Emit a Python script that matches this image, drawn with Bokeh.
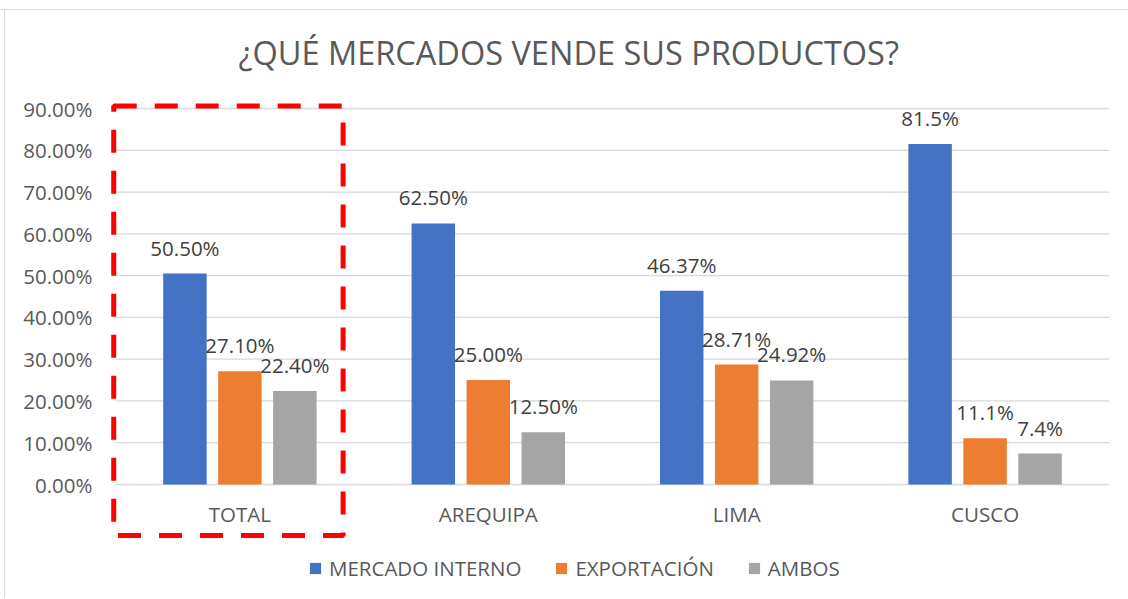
from bokeh.plotting import figure
from bokeh.models import (ColumnDataSource, FactorRange, FixedTicker, NumeralTickFormatter,
                          BoxAnnotation, Legend, LegendItem, Range1d)
from bokeh.transform import dodge
from bokeh.core.properties import value
from bokeh.embed import file_html
from bokeh.resources import INLINE

# ---------------- data ----------------
title_text = "¿QUÉ MERCADOS VENDE SUS PRODUCTOS?"
categories = ["TOTAL", "AREQUIPA", "LIMA", "CUSCO"]
series_names = ["MERCADO INTERNO", "EXPORTACIÓN", "AMBOS"]
mercado_interno = [0.505, 0.625, 0.4637, 0.815]
exportacion = [0.271, 0.25, 0.2871, 0.111]
ambos = [0.224, 0.125, 0.2492, 0.074]
mercado_interno_labels = ["50.50%", "62.50%", "46.37%", "81.5%"]
exportacion_labels = ["27.10%", "25.00%", "28.71%", "11.1%"]
ambos_labels = ["22.40%", "12.50%", "24.92%", "7.4%"]
y_ticks = [0.0, 0.1, 0.2, 0.3, 0.4, 0.5, 0.6, 0.7, 0.8, 0.9]

# ---------------- style ----------------
FONT = "Open Sans"
FS = "20.5px"
AXIS_COLOR = "#595959"
LABEL_COLOR = "#404040"
colors = ["#4472C4", "#ED7D31", "#A5A5A5"]
offsets = [-0.2213, 0.0, 0.2213]
bar_w = 0.175

src = ColumnDataSource(dict(
    cat=categories,
    mi=mercado_interno, ex=exportacion, am=ambos,
    mi_l=mercado_interno_labels, ex_l=exportacion_labels, am_l=ambos_labels,
    cat_y=[-0.091] * len(categories),
))
grid_src = ColumnDataSource(dict(
    x0=[0] * len(y_ticks), x1=[len(categories)] * len(y_ticks), y=y_ticks,
))

p = figure(
    x_range=FactorRange(*categories, range_padding=0.025, range_padding_units="absolute"),
    y_range=Range1d(-0.25372, 0.91915),
    width=1128, height=598,
    output_backend="svg", toolbar_location=None,
    min_border_left=109, min_border_right=13, min_border_top=100, min_border_bottom=8,
)
p.border_fill_color = None
p.styles = {
    "box-shadow": ("inset 0 9px 0 0 #ffffff, inset 0 10px 0 0 #D9D9D9, "
                   "inset 4px 0 0 0 #ffffff, inset 5px 0 0 0 #D9D9D9"),
}

p.title.text = title_text
p.title.text_font = FONT
p.title.text_font_size = "32.5px"
p.title.text_font_style = "normal"
p.title.text_color = AXIS_COLOR
p.title.align = "left"
p.title.offset = 129
p.title.vertical_align = "top"
p.title.standoff = 48

p.xaxis.visible = False
p.xgrid.grid_line_color = None
p.ygrid.grid_line_color = None
p.outline_line_color = None

# horizontal gridlines spanning the category area
p.segment(x0="x0", x1="x1", y0="y", y1="y", source=grid_src,
          line_color="#D9D9D9", line_width=1.3, level="underlay")

yax = p.yaxis[0]
yax.ticker = FixedTicker(ticks=y_ticks, minor_ticks=[])
yax.formatter = NumeralTickFormatter(format="0.00%")
yax.axis_line_color = None
yax.major_tick_line_color = None
yax.minor_tick_line_color = None
yax.major_tick_out = 0
yax.major_tick_in = 0
yax.major_label_standoff = 17
yax.major_label_text_font = FONT
yax.major_label_text_font_size = FS
yax.major_label_text_color = AXIS_COLOR

cols = ["mi", "ex", "am"]
lcols = ["mi_l", "ex_l", "am_l"]
renderers = []
for col, lcol, off, c in zip(cols, lcols, offsets, colors):
    r = p.vbar(x=dodge("cat", off, range=p.x_range), top=col, width=bar_w, source=src,
               fill_color=c, line_color=None)
    renderers.append(r)
    p.text(x=dodge("cat", off, range=p.x_range), y=col, text=lcol, source=src,
           text_align="center", text_baseline="alphabetic", y_offset=-26,
           text_font=value(FONT), text_font_size=value(FS), text_color=LABEL_COLOR)

# category labels
p.text(x="cat", y="cat_y", text="cat", source=src, text_align="center",
       text_baseline="alphabetic", y_offset=-9, text_font=value(FONT),
       text_font_size=value(FS), text_color=AXIS_COLOR)

# red dashed highlight box around TOTAL
box = BoxAnnotation(left=-0.008, right=0.9155, top=0.906, bottom=-0.1221,
                    fill_alpha=0, line_color="#FF0000", line_alpha=1.0,
                    line_width=5, line_dash="23 18")
p.add_layout(box)

legend = Legend(
    items=[LegendItem(label=n, renderers=[r]) for n, r in zip(series_names, renderers)],
    orientation="horizontal", location=(199, 8),
    glyph_width=14, glyph_height=14, label_standoff=7, spacing=33,
    padding=0, margin=0, border_line_color=None, background_fill_alpha=0,
    label_text_font=FONT, label_text_font_size=FS, label_text_color=AXIS_COLOR,
)
p.add_layout(legend, "center")

open("out.html", "w").write(file_html(p, INLINE))
